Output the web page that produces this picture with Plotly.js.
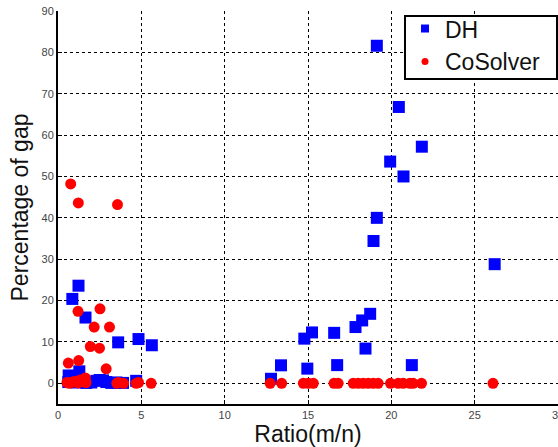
<!DOCTYPE html>
<html>
<head>
<meta charset="utf-8">
<script src="https://cdn.plot.ly/plotly-3.0.1.min.js"></script>
<style>html,body{margin:0;padding:0;background:#fff;}#chart{width:558px;height:447px;}</style>
</head>
<body>
<div id="chart"></div>
<script>
// DH series
const dhX = [19.13, 20.45, 21.83, 19.93, 20.73, 19.13, 18.93, 26.2, 18.73, 18.25, 17.85, 18.45, 16.57, 15.24, 14.78, 14.96, 16.75, 21.23, 13.38, 12.78,
             1.23, 0.86, 1.65, 3.61, 4.83, 5.63, 0.64, 1.28,
             0.62, 0.85, 1.1, 1.4, 1.7, 2.0, 2.3, 2.5, 2.7, 2.9, 3.2, 3.5, 3.9, 4.69];
const dhY = [81.6, 66.8, 57.2, 53.6, 50.0, 40.0, 34.4, 28.8, 16.8, 15.2, 13.6, 8.4, 12.2, 12.3, 10.8, 3.55, 4.4, 4.4, 4.35, 1.1,
             23.6, 20.4, 15.9, 9.9, 10.7, 9.2, 1.9, 2.9,
             0.3, 0.5, 0.2, 0.4, 0.1, 0.2, 0.6, 0.8, 0.7, 0.3, 0.1, 0.2, 0.1, 0.6];
// CoSolver series
const csX = [0.76, 1.22, 3.57, 1.2, 2.52, 2.17, 3.09, 1.94, 2.49, 0.62, 1.24, 2.89,
             0.54, 0.68, 0.85, 1.04, 1.2, 1.34, 1.5, 1.64, 1.68, 3.53, 3.63, 3.93, 4.69, 4.83, 5.59,
             12.73, 13.42, 14.72, 15.02, 15.32, 16.56, 16.81, 17.71, 18.01, 18.31, 18.61, 18.91, 19.21,
             19.95, 20.41, 20.71, 21.11, 21.31, 21.81, 26.1];
const csY = [48.2, 43.6, 43.2, 17.4, 18.0, 13.6, 13.6, 8.9, 8.5, 4.9, 5.5, 3.5,
             0.2, 0, 0.3, 0.5, 0.1, 0.8, 0.4, 1.3, 0.2, 0, 0.2, 0, 0, 0.2, 0,
             0, 0, 0, 0, 0, 0, 0, 0, 0, 0, 0, 0, 0,
             0, 0, 0, 0, 0, 0, 0];
const seriesNames = ['DH', 'CoSolver'];
const xTicks = [0, 5, 10, 15, 20, 25, 30];
const yTicks = [0, 10, 20, 30, 40, 50, 60, 70, 80, 90];

const FONT = 'Liberation Sans, Arial, Helvetica, sans-serif';
const traces = [
  {x: dhX, y: dhY, type: 'scatter', mode: 'markers', showlegend: false,
   marker: {symbol: 'square', size: 12, color: '#0000ff'}},
  {x: csX, y: csY, type: 'scatter', mode: 'markers', showlegend: false,
   marker: {symbol: 'circle', size: 11, color: '#ff0000'}},
  {x: [null], y: [null], type: 'scatter', mode: 'markers', name: seriesNames[0],
   marker: {symbol: 'square', size: 8, color: '#0000ff'}},
  {x: [null], y: [null], type: 'scatter', mode: 'markers', name: seriesNames[1],
   marker: {symbol: 'circle', size: 7, color: '#ff0000'}}
];
const axisCommon = {
  showgrid: true, gridcolor: '#000', griddash: 'dot', gridwidth: 1,
  zeroline: false, showline: true, linecolor: '#000', linewidth: 2,
  ticks: 'inside', ticklen: 4, tickcolor: '#000',
  ticklabeloverflow: 'allow',
  tickfont: {family: FONT, size: 11, color: '#444'}
};
const layout = {
  width: 558, height: 447,
  margin: {l: 58, r: 0, t: 11, b: 43},
  paper_bgcolor: '#fff', plot_bgcolor: '#fff',
  xaxis: Object.assign({}, axisCommon, {
    range: [0, 30], tickvals: xTicks, ticktext: xTicks.map(String),
    title: {text: 'Ratio(m/n)', font: {family: FONT, size: 23, color: '#111'}, standoff: 4}
  }),
  yaxis: Object.assign({}, axisCommon, {
    range: [-5, 90], tickvals: yTicks, ticktext: yTicks.map(String),
    title: {text: 'Percentage of gap', font: {family: FONT, size: 23, color: '#111'}, standoff: 6}
  }),
  shapes: [{
    type: 'rect', xref: 'paper', yref: 'paper', layer: 'above',
    x0: 0.694, x1: 0.998, y0: 0.827, y1: 0.987,
    fillcolor: '#fff', line: {color: '#000', width: 2}
  }],
  legend: {
    x: 0.694, y: 1.01, xanchor: 'left', yanchor: 'top',
    bgcolor: 'rgba(0,0,0,0)', borderwidth: 0,
    font: {family: FONT, size: 23, color: '#111'},
    itemwidth: 30, tracegroupgap: 0
  },
  showlegend: true
};
Plotly.newPlot('chart', traces, layout, {displayModeBar: false, staticPlot: true});
</script>
</body>
</html>
